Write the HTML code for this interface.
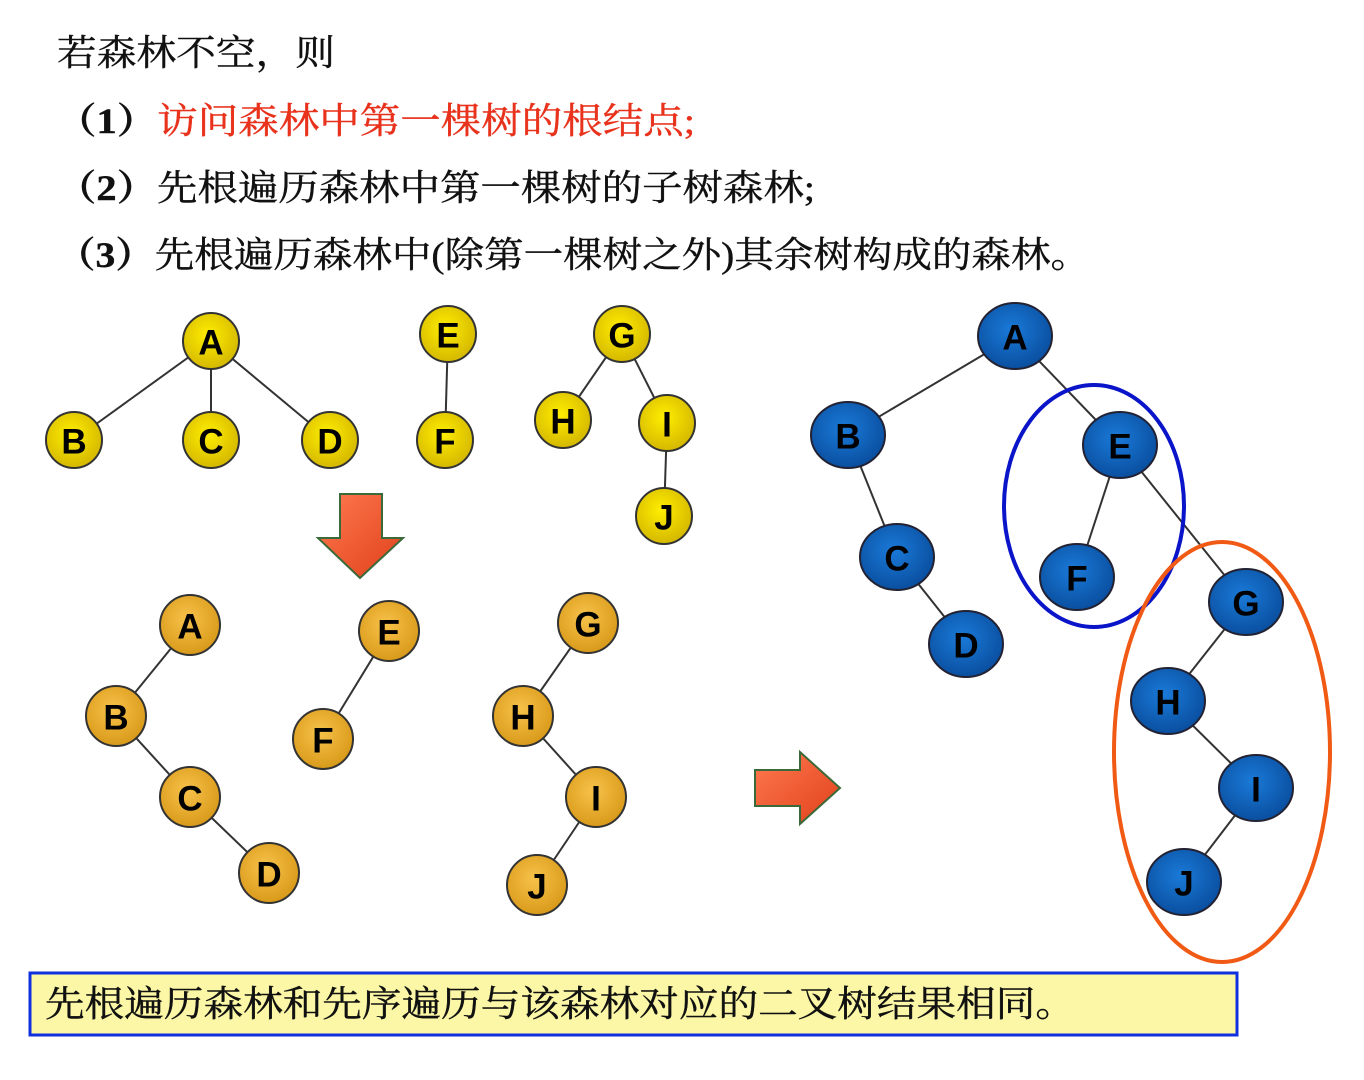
<!DOCTYPE html>
<html><head><meta charset="utf-8"><style>
html,body{margin:0;padding:0;background:#fff;}
svg{display:block;}
.t{font-family:"Liberation Serif","Noto Serif CJK SC",serif;font-size:36px;fill:#111;stroke:#111;stroke-width:0.4px;}
.n{font-family:"Liberation Sans","DejaVu Sans",sans-serif;font-weight:bold;font-size:35px;fill:#000;text-anchor:middle;dominant-baseline:central;}
</style></head><body>
<svg width="1364" height="1080" viewBox="0 0 1364 1080" xmlns="http://www.w3.org/2000/svg">
<defs>
<radialGradient id="gy" cx="45%" cy="40%" r="60%"><stop offset="0" stop-color="#ffee00"/><stop offset="1" stop-color="#d4b800"/></radialGradient>
<radialGradient id="go" cx="45%" cy="40%" r="60%"><stop offset="0" stop-color="#f7c24a"/><stop offset="1" stop-color="#d99a1a"/></radialGradient>
<radialGradient id="gb" cx="45%" cy="40%" r="60%"><stop offset="0" stop-color="#1a7ad8"/><stop offset="1" stop-color="#0a4fa0"/></radialGradient>
<linearGradient id="ga" x1="0" y1="0" x2="1" y2="1"><stop offset="0" stop-color="#ff7a50"/><stop offset="1" stop-color="#e0401a"/></linearGradient>
</defs>
<text class="t" x="57" y="65" textLength="278" lengthAdjust="spacingAndGlyphs">若森林不空，则</text>
<text class="t" x="56" y="133" textLength="639" lengthAdjust="spacingAndGlyphs"><tspan font-weight="bold">（1）</tspan><tspan fill="#e8321c" stroke="#e8321c">访问森林中第一棵树的根结点;</tspan></text>
<text class="t" x="56" y="200" textLength="759" lengthAdjust="spacingAndGlyphs"><tspan font-weight="bold">（2）</tspan>先根遍历森林中第一棵树的子树森林;</text>
<text class="t" x="56" y="267" textLength="1034" lengthAdjust="spacingAndGlyphs"><tspan font-weight="bold">（3）</tspan>先根遍历森林中(除第一棵树之外)其余树构成的森林。</text>

<g stroke="#333" stroke-width="2">
<line x1="211" y1="341" x2="74" y2="440"/><line x1="211" y1="341" x2="211" y2="440"/><line x1="211" y1="341" x2="330" y2="440"/>
<line x1="448" y1="334" x2="445" y2="440"/>
<line x1="622" y1="334" x2="563" y2="420"/><line x1="622" y1="334" x2="667" y2="423"/><line x1="667" y1="423" x2="664" y2="516"/>
<line x1="190" y1="625" x2="116" y2="716"/><line x1="116" y1="716" x2="190" y2="797"/><line x1="190" y1="797" x2="269" y2="873"/>
<line x1="389" y1="631" x2="323" y2="739"/>
<line x1="588" y1="623" x2="523" y2="716"/><line x1="523" y1="716" x2="596" y2="797"/><line x1="596" y1="797" x2="537" y2="885"/>
<line x1="1015" y1="336" x2="848" y2="435"/><line x1="1015" y1="336" x2="1120" y2="445"/><line x1="848" y1="435" x2="897" y2="557"/><line x1="897" y1="557" x2="966" y2="644"/>
<line x1="1120" y1="445" x2="1077" y2="577"/><line x1="1120" y1="445" x2="1246" y2="602"/><line x1="1246" y1="602" x2="1168" y2="701"/><line x1="1168" y1="701" x2="1256" y2="788"/><line x1="1256" y1="788" x2="1184" y2="882"/>
</g>

<g stroke="#333" stroke-width="2" fill="url(#gy)">
<circle cx="211" cy="341" r="28"/><circle cx="74" cy="440" r="28"/><circle cx="211" cy="440" r="28"/><circle cx="330" cy="440" r="28"/>
<circle cx="448" cy="334" r="28"/><circle cx="445" cy="440" r="28"/><circle cx="622" cy="334" r="28"/><circle cx="563" cy="420" r="28"/><circle cx="667" cy="423" r="28"/><circle cx="664" cy="516" r="28"/>
</g>
<g stroke="#333" stroke-width="2" fill="url(#go)">
<circle cx="190" cy="625" r="30"/><circle cx="116" cy="716" r="30"/><circle cx="190" cy="797" r="30"/><circle cx="269" cy="873" r="30"/>
<circle cx="389" cy="631" r="30"/><circle cx="323" cy="739" r="30"/><circle cx="588" cy="623" r="30"/><circle cx="523" cy="716" r="30"/><circle cx="596" cy="797" r="30"/><circle cx="537" cy="885" r="30"/>
</g>
<g stroke="#223" stroke-width="2" fill="url(#gb)">
<ellipse cx="1015" cy="336" rx="37" ry="33"/><ellipse cx="848" cy="435" rx="37" ry="33"/><ellipse cx="1120" cy="445" rx="37" ry="33"/><ellipse cx="897" cy="557" rx="37" ry="33"/><ellipse cx="1077" cy="577" rx="37" ry="33"/>
<ellipse cx="966" cy="644" rx="37" ry="33"/><ellipse cx="1246" cy="602" rx="37" ry="33"/><ellipse cx="1168" cy="701" rx="37" ry="33"/><ellipse cx="1256" cy="788" rx="37" ry="33"/><ellipse cx="1184" cy="882" rx="37" ry="33"/>
</g>
<g>
<text class="n" x="211" y="343">A</text><text class="n" x="74" y="442">B</text><text class="n" x="211" y="442">C</text><text class="n" x="330" y="442">D</text>
<text class="n" x="448" y="336">E</text><text class="n" x="445" y="442">F</text><text class="n" x="622" y="336">G</text><text class="n" x="563" y="422">H</text><text class="n" x="667" y="425">I</text><text class="n" x="664" y="518">J</text>
<text class="n" x="190" y="627">A</text><text class="n" x="116" y="718">B</text><text class="n" x="190" y="799">C</text><text class="n" x="269" y="875">D</text>
<text class="n" x="389" y="633">E</text><text class="n" x="323" y="741">F</text><text class="n" x="588" y="625">G</text><text class="n" x="523" y="718">H</text><text class="n" x="596" y="799">I</text><text class="n" x="537" y="887">J</text>
<text class="n" x="1015" y="338">A</text><text class="n" x="848" y="437">B</text><text class="n" x="1120" y="447">E</text><text class="n" x="897" y="559">C</text><text class="n" x="1077" y="579">F</text>
<text class="n" x="966" y="646">D</text><text class="n" x="1246" y="604">G</text><text class="n" x="1168" y="703">H</text><text class="n" x="1256" y="790">I</text><text class="n" x="1184" y="884">J</text>
</g>

<ellipse cx="1094" cy="506" rx="90" ry="121" fill="none" stroke="#0a14c8" stroke-width="4"/>
<ellipse cx="1222" cy="752" rx="108" ry="210" fill="none" stroke="#f05a14" stroke-width="4"/>

<polygon points="340,494 382,494 382,538 403,538 360,578 318,538 340,538" fill="url(#ga)" stroke="#3a6a3a" stroke-width="2"/>
<polygon points="755,770 800,770 800,752 840,788 800,824 800,806 755,806" fill="url(#ga)" stroke="#3a6a3a" stroke-width="2"/>

<rect x="30" y="973" width="1207" height="62" fill="#fbf7a6" stroke="#1030e0" stroke-width="3"/>
<text class="t" x="45" y="1016" textLength="1030" lengthAdjust="spacingAndGlyphs">先根遍历森林和先序遍历与该森林对应的二叉树结果相同。</text>
</svg>
</body></html>
